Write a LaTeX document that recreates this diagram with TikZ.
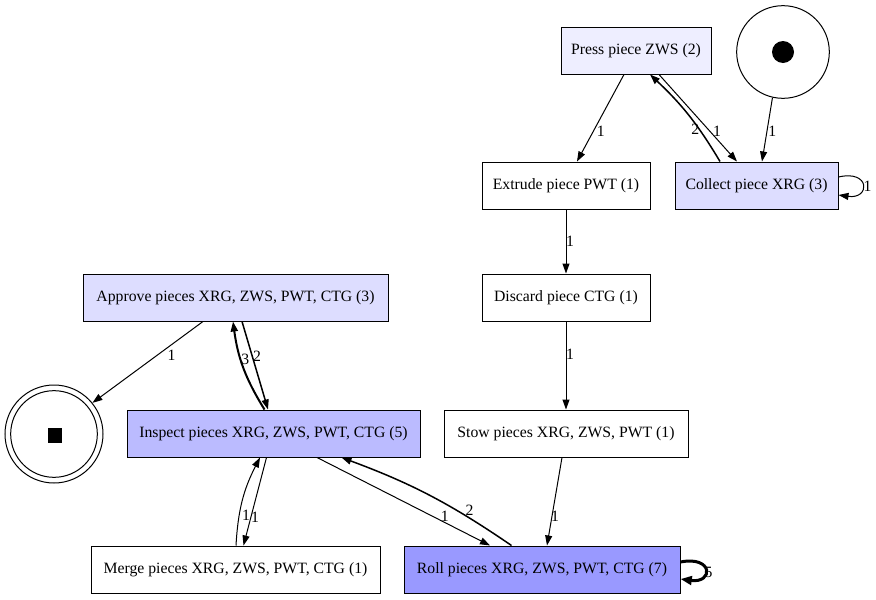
\documentclass[tikz,border=0pt]{standalone}
\usepackage{fontspec}
\setmainfont{Liberation Serif}
\usetikzlibrary{arrows.meta,calc}
\definecolor{fillA}{HTML}{EEEEFF}
\definecolor{fillB}{HTML}{DDDDFF}
\definecolor{fillC}{HTML}{BBBBFF}
\definecolor{fillD}{HTML}{9999FF}

\begin{document}
\begin{tikzpicture}[x=0.75pt, y=-0.75pt,
  every node/.style={font=\fontsize{11.8}{13.5}\selectfont},
  task/.style={draw, line width=0.75pt, rectangle, minimum height=35.25pt, inner sep=0pt},
  token/.style={draw, line width=0.75pt, circle, inner sep=0pt},
  flow/.style={line width=0.75pt, -{Triangle[length=7.5pt,width=5.25pt]}},
  wtwo/.style={line width=1.125pt},
  wthree/.style={line width=1.5pt},
  wfive/.style={line width=2.25pt, -{Triangle[length=8.5pt,width=6.5pt]}},
  lbl/.style={inner sep=0pt}
]
% canvas
\fill[white] (0,0) rectangle (876,600);
\useasboundingbox (0,0) rectangle (876,600);

% activities
\node[task, fill=fillA, minimum width=112.5pt] (press) at (636,50.5) {Press piece ZWS (2)};
\node[task, fill=white, minimum width=126pt] (extrude) at (566,185.5) {Extrude piece PWT (1)};
\node[task, fill=fillB, minimum width=122.25pt] (collect) at (756.5,185.5) {Collect piece XRG (3)};
\node[task, fill=white, minimum width=126pt] (discard) at (566,297.5) {Discard piece CTG (1)};
\node[task, fill=fillB, minimum width=228.75pt] (approve) at (235.5,297.5) {Approve pieces XRG, ZWS, PWT, CTG (3)};
\node[task, fill=fillC, minimum width=219.75pt] (inspect) at (273.5,433.5) {Inspect pieces XRG, ZWS, PWT, CTG (5)};
\node[task, fill=white, minimum width=183pt] (stow) at (566,433.5) {Stow pieces XRG, ZWS, PWT (1)};
\node[task, fill=white, minimum width=216.75pt] (merge) at (235.5,569.5) {Merge pieces XRG, ZWS, PWT, CTG (1)};
\node[task, fill=fillD, minimum width=207pt] (roll) at (542,569.5) {Roll pieces XRG, ZWS, PWT, CTG (7)};

% start and end places
\node[token, minimum size=69.5pt] (start) at (783,52) {};
\node[circle, fill=black, minimum size=16.5pt, inner sep=0pt] (startdot) at (start) {};
\node[token, minimum size=73.5pt] (end) at (54,434) {};
\node[token, minimum size=65pt] (endin) at (end) {};
\node[fill=black, minimum size=10.8pt, inner sep=0pt] (endmark) at (55,435.5) {};

% arcs
\draw[flow] ($(press.south)+(-12,0)$) -- node[lbl, pos=0.65, xshift=5.6pt] (l1) {1} ($(extrude.north)+(11,0)$);
\draw[flow] ($(press.south)+(23,0)$) -- node[lbl, pos=0.65, xshift=5.6pt] (l2) {1} ($(collect.north)+(-19.5,0)$);
\draw[flow, wtwo] ($(collect.north)+(-36.5,0)$) to[bend right=8] node[lbl, pos=0.33, xshift=-3pt] (l3) {2} ($(press.south)+(14,0)$);
\draw[flow] (start.-103) -- node[lbl, pos=0.52, xshift=4pt] (l4) {1} ($(collect.north)+(5.5,0)$);
\draw[flow] ($(collect.east)+(0,-8.5)$) .. controls ($(collect.east)+(32,-16)$) and ($(collect.east)+(32,14)$) .. ($(collect.east)+(0,9.5)$);
\node[lbl] (l5) at ($(collect.east)+(29,0.5)$) {1};
\draw[flow] (extrude) -- node[lbl, pos=0.5, xshift=3pt] (l6) {1} (discard);
\draw[flow] (discard) -- node[lbl, pos=0.37, xshift=3pt] (l7) {1} (stow);
\draw[flow] ($(stow.south)+(-4,0)$) -- node[lbl, pos=0.67, xshift=2.3pt] (l8) {1} ($(roll.north)+(5,0)$);
\draw[flow] ($(approve.south)+(-32.5,0)$) -- node[lbl, pos=0.41, xshift=10.5pt] (l9) {1} (end.39);
\draw[flow, wtwo] ($(approve.south)+(6.5,0)$) -- node[lbl, pos=0.4, xshift=3.4pt] (l10) {2} ($(inspect.north)+(-5.5,0)$);
\draw[flow, wthree] ($(inspect.north)+(-9,0)$) to[bend left=12] node[lbl, pos=0.6, xshift=3.4pt] (l11) {3} ($(approve.south)+(-2.5,0)$);
\draw[flow] ($(inspect.south)+(-7,0)$) -- node[lbl, pos=0.68, xshift=3.2pt] (l12) {1} ($(merge.north)+(8,0)$);
\draw[flow] ($(merge.north)+(0.5,0)$) to[bend left=12] node[lbl, pos=0.32, xshift=5pt] (l13) {1} ($(inspect.south)+(-13.5,0)$);
\draw[flow] ($(inspect.south)+(43.5,0)$) -- node[lbl, pos=0.67, xshift=9pt] (l14) {1} ($(roll.north)+(-52,0)$);
\draw[flow, wtwo] ($(roll.north)+(-30.5,0)$) to[bend right=7] node[lbl, pos=0.33, xshift=10pt] (l15) {2} ($(inspect.south)+(68,0)$);
\draw[flow, wfive] ($(roll.east)+(0,-7.5)$) .. controls ($(roll.east)+(33,-14)$) and ($(roll.east)+(33,14)$) .. ($(roll.east)+(0,9.5)$);
\node[lbl] (l16) at ($(roll.east)+(28,2.5)$) {5};
\end{tikzpicture}
\end{document}
